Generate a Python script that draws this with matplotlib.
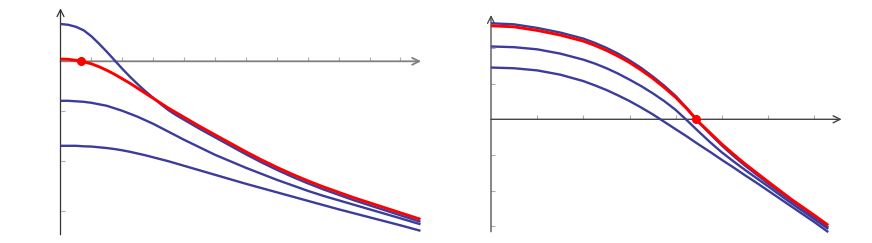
import matplotlib
matplotlib.use("Agg")
import matplotlib.pyplot as plt

# ---------------- data: left panel ----------------
left_x = [0, 0.25, 0.5, 0.75, 1.0, 1.25, 1.5, 1.75, 2.0, 2.25, 2.5, 2.75, 3.0, 3.25, 3.5, 3.75,
          4.0, 4.5, 5.0, 5.5, 6.0, 6.5, 7.0, 7.5, 8.0, 8.5, 9.0, 9.5, 10.0, 10.5, 11.0, 11.65]
left_blue1 = [0.746, 0.73, 0.69, 0.62, 0.50, 0.35, 0.19, 0.02, -0.15, -0.31, -0.46, -0.60, -0.73, -0.86, -0.98, -1.08,
              -1.17, -1.35, -1.52, -1.69, -1.86, -2.02, -2.17, -2.31, -2.44, -2.56, -2.67, -2.78, -2.88, -2.98, -3.08, -3.21]
left_red = [0.045, 0.04, 0.02, -0.01, -0.05, -0.11, -0.18, -0.26, -0.35, -0.44, -0.54, -0.64, -0.74, -0.84, -0.94, -1.03,
            -1.12, -1.30, -1.47, -1.64, -1.81, -1.97, -2.12, -2.26, -2.39, -2.51, -2.62, -2.73, -2.83, -2.93, -3.03, -3.16]
left_blue2 = [-0.79, -0.79, -0.80, -0.81, -0.83, -0.86, -0.89, -0.94, -0.99, -1.05, -1.11, -1.18, -1.25, -1.33, -1.41, -1.49,
              -1.57, -1.72, -1.87, -2.00, -2.13, -2.25, -2.37, -2.48, -2.59, -2.69, -2.78, -2.87, -2.96, -3.05, -3.14, -3.26]
left_blue3 = [-1.69, -1.69, -1.69, -1.70, -1.705, -1.72, -1.735, -1.755, -1.78, -1.81, -1.845, -1.88, -1.92, -1.96, -2.00, -2.045,
              -2.09, -2.18, -2.27, -2.36, -2.45, -2.535, -2.62, -2.705, -2.79, -2.875, -2.96, -3.04, -3.12, -3.20, -3.28, -3.39]
left_dot = (0.65, 0.0)
left_xticks = [1, 2, 3, 4, 5, 6, 7, 8, 9, 10, 11]
left_yticks = [-1, -2, -3]

# ---------------- data: right panel ----------------
right_x = [0, 0.5, 1.0, 1.5, 2.0, 2.25, 2.5, 2.75, 3.0, 3.25, 3.5, 3.75, 4.0, 4.25, 4.5, 4.75,
           5.0, 5.25, 5.5, 5.75, 6.0, 6.5, 7.0, 7.3]
right_blue1 = [2.69, 2.66, 2.56, 2.43, 2.26, 2.14, 2.00, 1.84, 1.65, 1.44, 1.20, 0.94, 0.65, 0.30, -0.09, -0.42,
               -0.74, -1.03, -1.30, -1.55, -1.80, -2.28, -2.74, -3.03]
right_red = [2.62, 2.59, 2.49, 2.36, 2.19, 2.07, 1.93, 1.77, 1.59, 1.38, 1.15, 0.89, 0.61, 0.28, -0.08, -0.39,
             -0.70, -0.98, -1.25, -1.50, -1.75, -2.24, -2.69, -2.97]
right_blue2 = [2.04, 2.02, 1.96, 1.84, 1.67, 1.56, 1.43, 1.28, 1.11, 0.93, 0.73, 0.51, 0.26, -0.04, -0.35, -0.65,
               -0.93, -1.18, -1.42, -1.65, -1.88, -2.35, -2.80, -3.07]
right_blue3 = [1.45, 1.43, 1.37, 1.25, 1.07, 0.95, 0.82, 0.67, 0.51, 0.33, 0.14, -0.07, -0.28, -0.49, -0.71, -0.92,
               -1.14, -1.35, -1.57, -1.78, -2.00, -2.44, -2.88, -3.16]
right_dot = (4.43, 0.0)
right_xticks = [1, 2, 3, 4, 5, 6, 7]
right_yticks = [-3, -2, -1, 1, 2]

BLUE = "#3c3c9c"
RED = "#ff0000"

W, H = 872, 243
fig = plt.figure(figsize=(W / 100, H / 100), dpi=100)


def make_axes(px_l, px_r, px_t, px_b):
    return fig.add_axes([px_l / W, 1 - px_b / H, (px_r - px_l) / W, (px_b - px_t) / H])


def setup(ax, x0px, xunit, y0px, yunit, box, xticks, yticks, xtip, ytop, ybot,
          xcol, xlw, ycol, ylw):
    px_l, px_r, px_t, px_b = box
    ax.set_xlim((px_l - x0px) / xunit, (px_r - x0px) / xunit)
    ax.set_ylim((y0px - px_b) / yunit, (y0px - px_t) / yunit)
    ax.patch.set_alpha(0)
    for s in ax.spines.values():
        s.set_color("none")
    ax.spines["left"].set_position(("data", 0))
    ax.spines["bottom"].set_position(("data", 0))
    ax.set_xticks(xticks)
    ax.set_yticks(yticks)
    ax.set_xticklabels([])
    ax.set_yticklabels([])
    ax.tick_params(axis="both", direction="in", length=3, width=0.8,
                   color="#aaaaaa", labelleft=False, labelbottom=False)
    ax.tick_params(left=True, bottom=True, top=False, right=False)
    ax.annotate("", xy=(xtip, 0), xytext=(0, 0),
                arrowprops=dict(arrowstyle="->,head_length=0.5,head_width=0.25",
                                color=xcol, lw=xlw, shrinkA=0, shrinkB=0))
    ax.annotate("", xy=(0, ytop), xytext=(0, ybot),
                arrowprops=dict(arrowstyle="->,head_length=0.5,head_width=0.25",
                                color=ycol, lw=ylw, shrinkA=0, shrinkB=0))


# left panel
axL = make_axes(55, 430, 5, 240)
setup(axL, 60.5, 30.9, 61.3, 50.0, (55, 430, 5, 240), left_xticks, left_yticks,
      11.67, 1.06, -3.47, "#808080", 1.3, "#333333", 0.9)
for ys in (left_blue3, left_blue2, left_blue1):
    axL.plot(left_x, ys, color=BLUE, lw=1.7, solid_capstyle="butt",
             solid_joinstyle="round", zorder=3)
axL.plot(left_x, left_red, color=RED, lw=2.1, solid_capstyle="butt",
         solid_joinstyle="round", zorder=4)
axL.plot([left_dot[0]], [left_dot[1]], "o", color=RED, ms=5.5, zorder=5)

# right panel
axR = make_axes(485, 850, 5, 240)
setup(axR, 491.0, 46.2, 119.3, 35.7, (485, 850, 5, 240), right_xticks, right_yticks,
      7.59, 2.92, -3.15, "#444444", 1.0, "#444444", 0.9)
for ys in (right_blue3, right_blue2, right_blue1):
    axR.plot(right_x, ys, color=BLUE, lw=1.7, solid_capstyle="butt",
             solid_joinstyle="round", zorder=3)
axR.plot(right_x, right_red, color=RED, lw=2.1, solid_capstyle="butt",
         solid_joinstyle="round", zorder=4)
axR.plot([right_dot[0]], [right_dot[1]], "o", color=RED, ms=5.5, zorder=5)

fig.savefig("out.png", dpi=100)
